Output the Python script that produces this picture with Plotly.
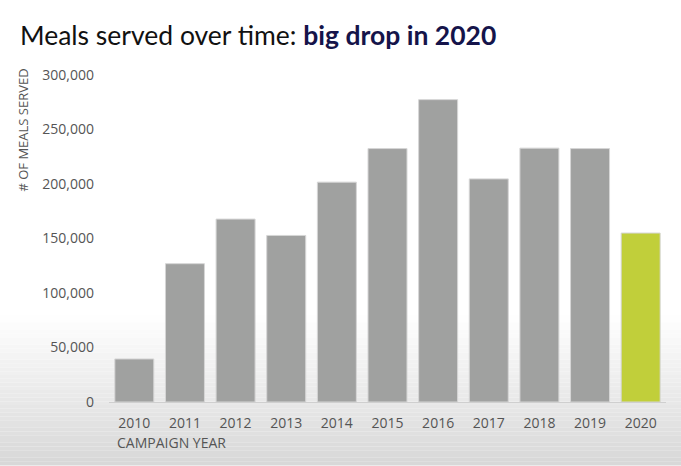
import plotly.graph_objects as go

years = ["2010", "2011", "2012", "2013", "2014", "2015", "2016", "2017", "2018", "2019", "2020"]
meals = [39500, 126900, 167800, 152800, 201700, 232500, 277400, 204700, 232900, 232500, 155000]
highlight_year = "2020"
y_ticks = [0, 50000, 100000, 150000, 200000, 250000, 300000]
y_tick_labels = ["0", "50,000", "100,000", "150,000", "200,000", "250,000", "300,000"]

GRAY = "#a0a1a0"
GREEN = "#c1cf3a"
colors = [GREEN if y == highlight_year else GRAY for y in years]

W, H = 681, 466
ML, MR, MT, MB = 109, 14.5, 75, 63.5
plot_w = W - ML - MR
plot_h = H - MT - MB
BODY = "'Open Sans', Lato, sans-serif"
TITLE = "Lato, 'Open Sans', sans-serif"

fig = go.Figure(go.Bar(
    x=years, y=meals,
    marker=dict(color=colors, line=dict(color="#d6d6d6", width=1)),
    hoverinfo="x+y",
))

# background gradient (styling only)
shapes = []
top_px, bot_px = 315, H
n = 40
for i in range(n):
    p0 = top_px + (bot_px - top_px) * i / n
    p1 = top_px + (bot_px - top_px) * (i + 1) / n
    t = (i + 0.5) / n
    c = int(round(255 - (255 - 215) * t))
    shapes.append(dict(
        type="rect", xref="paper", yref="paper", layer="below",
        x0=-ML / plot_w - 0.01, x1=1 + MR / plot_w + 0.01,
        y0=(H - MB - p1) / plot_h, y1=(H - MB - p0) / plot_h,
        line=dict(width=0), fillcolor=f"rgb({c},{c},{c})",
    ))

fig.update_layout(
    width=W, height=H,
    margin=dict(l=ML, r=MR, t=MT, b=MB),
    paper_bgcolor="white",
    plot_bgcolor="rgba(0,0,0,0)",
    font=dict(family=BODY, color="#555555", size=14),
    showlegend=False,
    bargap=0.23,
    shapes=shapes,
    xaxis=dict(
        type="category", range=[-0.5, 10.5],
        showline=True, linecolor="#cfcfcf", linewidth=1,
        showgrid=False, ticks="", tickfont=dict(size=14, color="#555555"),
        ticklabelstandoff=8,
    ),
    yaxis=dict(
        range=[0, 300000], tickvals=y_ticks, ticktext=y_tick_labels,
        showgrid=False, zeroline=False, showline=False, ticks="",
        tickfont=dict(size=14, color="#555555"), ticklabelstandoff=14,
    ),
    annotations=[
        dict(text="Meals served over time: <b><span style='color:#15144a'>big drop in 2020</span></b>",
             xref="paper", yref="paper", x=-(ML - 18) / plot_w, y=1 + (MT - 35) / plot_h,
             xanchor="left", yanchor="middle", showarrow=False,
             font=dict(size=26.5, color="#111111", family=TITLE)),
        dict(text="# OF MEALS SERVED", textangle=-90,
             xref="paper", yref="paper", x=-(ML - 22) / plot_w, y=1 + 8 / plot_h,
             xanchor="center", yanchor="top", showarrow=False,
             font=dict(size=13, color="#555555")),
        dict(text="CAMPAIGN YEAR",
             xref="paper", yref="paper", x=(115 - ML) / plot_w, y=-(443 - (H - MB)) / plot_h,
             xanchor="left", yanchor="middle", showarrow=False,
             font=dict(size=14, color="#555555")),
    ],
)

fig.write_html("out.html", post_script="document.body.style.margin='0';",
               config={"displayModeBar": False})
